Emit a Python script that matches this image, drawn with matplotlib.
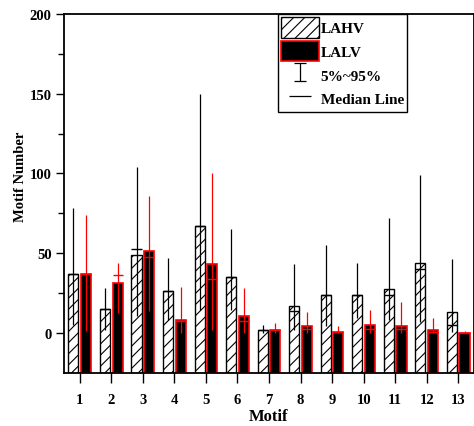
import matplotlib
matplotlib.use("Agg")
import matplotlib.pyplot as plt
from matplotlib.legend_handler import HandlerErrorbar
from matplotlib.container import ErrorbarContainer
import numpy as np

plt.rcParams['font.family'] = ['Liberation Serif', 'DejaVu Serif']
plt.rcParams['font.weight'] = 'bold'
plt.rcParams['hatch.linewidth'] = 0.8

motifs = np.arange(1, 14)

# LAHV: mean (bar), median, 5% and 95%
lahv_mean = [37, 15, 49, 26, 67, 35, 1.5, 17, 24, 23.5, 27.5, 44, 13]
lahv_median = [37, 15, 52.5, 26, 67, 35, 1.5, 13.5, 24, 23.5, 23.5, 40, 5]
lahv_p5 = [5, 2, 10.5, 8, 14, 14, 0, 1.5, 4.5, 9, 8, 7, 0.5]
lahv_p95 = [78, 28, 104, 47, 150, 65, 5, 43, 55, 44, 72, 99, 46]

# LALV
lalv_mean = [37, 31.5, 51, 8.3, 43, 10.3, 1.5, 4, 0.5, 5, 4.3, 2, 0]
lalv_median = [37, 36, 47.5, 7.3, 34, 7.3, 1.5, 2.5, 0.5, 2.5, 2.5, 0.5, 0]
lalv_p5 = [1, 12.5, 13.5, 0, 1.6, 0, 0, 0, 0, 0, 0, 0, 0]
lalv_p95 = [74, 44, 86, 29, 100, 28, 6, 13, 4, 14, 19, 9, 1]

ymin, ymax = -25, 200
w = 0.32
off = 0.2

fig = plt.figure(figsize=(4.74, 4.27), dpi=100)
ax = fig.add_axes([0.135, 0.125, 0.865, 0.84])

x1 = motifs - off
x2 = motifs + off
h1 = np.array(lahv_mean) - ymin
h2 = np.array(lalv_mean) - ymin

b1 = ax.bar(x1, h1, w, bottom=ymin, facecolor='white', edgecolor='black',
            hatch='///', linewidth=1.0, label='LAHV', zorder=2)
b2 = ax.bar(x2, h2, w, bottom=ymin, facecolor='black', edgecolor='red',
            linewidth=1.2, label='LALV', zorder=2)

# 5%~95% whiskers
ax.vlines(x1, lahv_p5, lahv_p95, color='black', linewidth=0.9, zorder=3)
ax.vlines(x2, lalv_p5, lalv_p95, color='red', linewidth=0.9, zorder=3)

# median lines
ax.hlines(lahv_median, x1 - w / 2, x1 + w / 2, color='black', linewidth=1.0, zorder=3)
ax.hlines(lalv_median, x2 - w / 2, x2 + w / 2, color='red', linewidth=1.0, zorder=3)

# dummy handles for the legend (drawn outside the view)
eb = ax.errorbar([-10], [0], yerr=[1], fmt='none', ecolor='black', elinewidth=0.9,
                 capsize=4, capthick=0.9, label='5%~95%')
ln, = ax.plot([-10], [0], linestyle='none', marker='_', markersize=16,
              markeredgewidth=0.9, color='black', label='Median Line')

ax.set_xlim(0.5, 13.5)
ax.set_ylim(ymin, ymax)
ax.set_xticks(motifs)
ax.set_yticks([0, 50, 100, 150, 200])
ax.set_yticks([25, 75, 125, 175], minor=True)
ax.tick_params(axis='x', which='major', labelsize=10.5, direction='out', length=7, width=1, pad=8)
ax.tick_params(axis='y', which='major', labelsize=10.5, direction='out', length=6, width=1, pad=3)
ax.tick_params(axis='y', which='minor', direction='out', length=4, width=1)
for lab in ax.get_xticklabels() + ax.get_yticklabels():
    lab.set_fontweight('bold')

ax.set_xlabel('Motif', fontsize=12, fontweight='bold', labelpad=1)
ax.set_ylabel('Motif Number', fontsize=10.5, fontweight='bold')
ax.yaxis.set_label_coords(-0.09, 0.55)

for s in ax.spines.values():
    s.set_linewidth(1.3)

leg = ax.legend(handles=[b1, b2, eb, ln], loc='upper left',
                bbox_to_anchor=(0.522, 1.0), fontsize=11, frameon=True,
                fancybox=False, edgecolor='black', framealpha=1,
                handlelength=2.5, handleheight=1.7, handletextpad=0.1,
                borderpad=0.2, labelspacing=0.2, borderaxespad=0,
                handler_map={ErrorbarContainer: HandlerErrorbar(yerr_size=0.6)})
leg.get_frame().set_linewidth(1.0)
for t in leg.get_texts():
    t.set_fontweight('bold')

fig.savefig('out.png', dpi=100)
